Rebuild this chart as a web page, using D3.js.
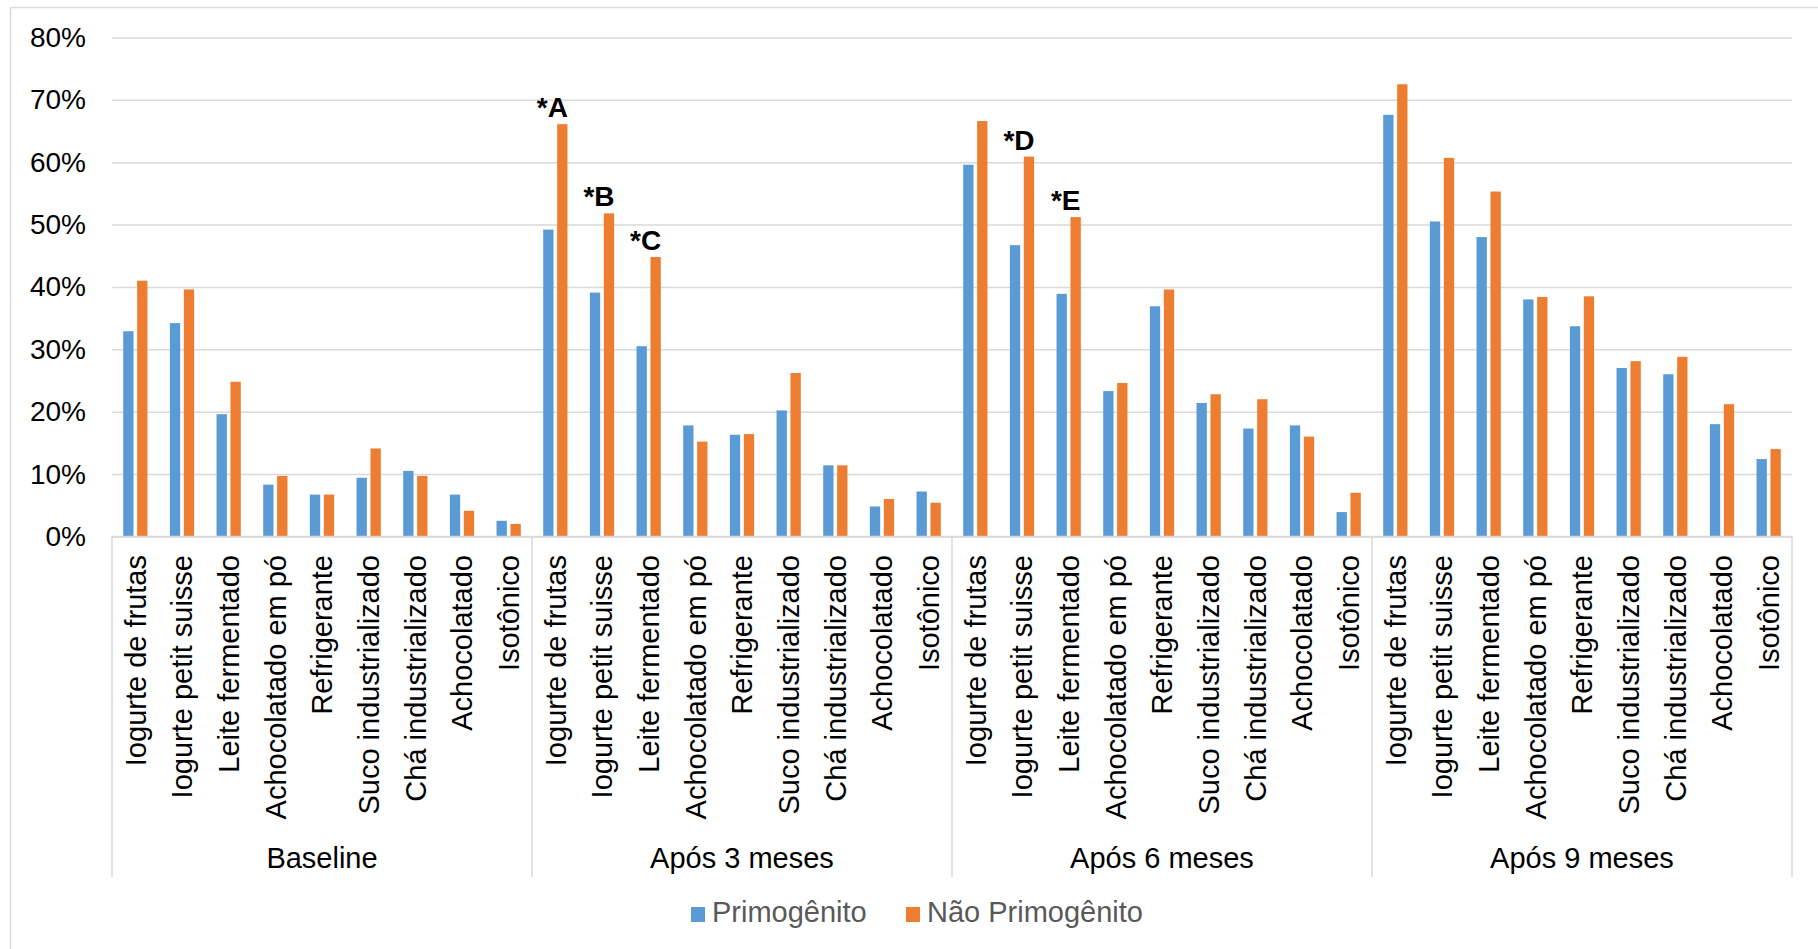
<!DOCTYPE html>
<html>
<head>
<meta charset="utf-8">
<script src="https://cdn.jsdelivr.net/npm/d3@7"></script>
<style>
  body { margin: 0; background: #fff; }
  svg { display: block; font-family: "Liberation Sans", Arial, sans-serif; }
</style>
</head>
<body>
<svg id="chart" width="1818" height="949"></svg>
<script>
// Beverage items, repeated for each follow-up period
const items = [
  "Iogurte de frutas", "Iogurte petit suisse", "Leite fermentado",
  "Achocolatado em pó", "Refrigerante", "Suco industrializado",
  "Chá industrializado", "Achocolatado", "Isotônico"
];
const periods = ["Baseline", "Após 3 meses", "Após 6 meses", "Após 9 meses"];
const seriesNames = ["Primogênito", "Não Primogênito"];

// Share of children consuming each item (fraction), in period order
const primogenito = [
  0.329, 0.342, 0.196, 0.083, 0.067, 0.094, 0.105, 0.067, 0.025,
  0.492, 0.391, 0.305, 0.178, 0.163, 0.202, 0.114, 0.048, 0.072,
  0.596, 0.467, 0.389, 0.233, 0.369, 0.214, 0.173, 0.178, 0.039,
  0.676, 0.505, 0.480, 0.380, 0.337, 0.270, 0.260, 0.180, 0.124
];
const naoPrimogenito = [
  0.410, 0.396, 0.248, 0.097, 0.067, 0.141, 0.097, 0.041, 0.020,
  0.661, 0.518, 0.448, 0.152, 0.164, 0.262, 0.114, 0.060, 0.054,
  0.666, 0.609, 0.512, 0.246, 0.396, 0.228, 0.220, 0.160, 0.070,
  0.725, 0.607, 0.553, 0.384, 0.385, 0.281, 0.288, 0.212, 0.140
];

// Significance markers placed over selected item pairs
const markerText = ["*A", "*B", "*C", "*D", "*E"];
const markerIndex = [9, 10, 11, 19, 20];

const yTicks = [0, 0.1, 0.2, 0.3, 0.4, 0.5, 0.6, 0.7, 0.8];
const colors = ["#5B9BD5", "#ED7D31"];

const svg = d3.select("#chart");
const plotLeft = 112, plotRight = 1792, plotTop = 37.5, plotBottom = 536.4;

// Outer chart frame
svg.append("rect")
  .attr("x", 10.5).attr("y", 7.5)
  .attr("width", 1840).attr("height", 980)
  .attr("fill", "none").attr("stroke", "#d9d9d9").attr("stroke-width", 1.5);

const keys = d3.range(items.length * periods.length);
const rows = keys.map(i => ({
  i, item: items[i % items.length], period: Math.floor(i / items.length),
  values: [primogenito[i], naoPrimogenito[i]]
}));

const x0 = d3.scaleBand().domain(keys).range([plotLeft, plotRight])
  .paddingInner(0.48).paddingOuter(0.24);
const x1 = d3.scaleBand().domain([0, 1]).range([0, x0.bandwidth()]).paddingInner(0.26);
const y = d3.scaleLinear().domain([0, 0.8]).range([plotBottom, plotTop]);
const step = x0.step();
const catCenter = i => x0(i) + x0.bandwidth() / 2;

// Horizontal gridlines and percentage labels
const yAxis = d3.axisLeft(y).tickValues(yTicks).tickFormat(d3.format(".0%"))
  .tickSize(-(plotRight - plotLeft)).tickPadding(26);
const gy = svg.append("g").attr("transform", `translate(${plotLeft},0)`).call(yAxis);
gy.select(".domain").remove();
gy.selectAll(".tick line").attr("stroke", "#d9d9d9").attr("stroke-width", 1.5);
gy.selectAll(".tick text")
  .attr("font-size", 28).attr("fill", "#000")
  .attr("font-family", "'Liberation Sans', Arial, sans-serif");

// Bars
const groups = svg.append("g").selectAll("g").data(rows).join("g")
  .attr("transform", d => `translate(${x0(d.i)},0)`);
groups.selectAll("rect").data(d => d.values.map((v, s) => ({ v, s }))).join("rect")
  .attr("x", d => x1(d.s))
  .attr("width", x1.bandwidth())
  .attr("y", d => y(d.v))
  .attr("height", d => y(0) - y(d.v))
  .attr("fill", d => colors[d.s]);

// Category axis line
svg.append("line")
  .attr("x1", plotLeft).attr("x2", plotRight).attr("y1", plotBottom).attr("y2", plotBottom)
  .attr("stroke", "#d9d9d9").attr("stroke-width", 1.5);

// Period separators
const sepX = d3.range(periods.length + 1).map(p => plotLeft + p * items.length * step);
svg.append("g").selectAll("line").data(sepX).join("line")
  .attr("x1", d => d).attr("x2", d => d)
  .attr("y1", plotBottom).attr("y2", 877)
  .attr("stroke", "#d9d9d9").attr("stroke-width", 1.5);

// Item labels, rotated
svg.append("g").selectAll("text").data(rows).join("text")
  .attr("transform", d => `translate(${catCenter(d.i)},555) rotate(-90)`)
  .attr("text-anchor", "end")
  .attr("dy", "0.36em")
  .attr("font-size", 29)
  .attr("fill", "#000")
  .text(d => d.item);

// Period labels
svg.append("g").selectAll("text").data(periods).join("text")
  .attr("x", (d, p) => plotLeft + (p + 0.5) * items.length * step)
  .attr("y", 868)
  .attr("text-anchor", "middle")
  .attr("font-size", 29)
  .attr("fill", "#000")
  .text(d => d);

// Significance markers
svg.append("g").selectAll("text").data(markerIndex).join("text")
  .attr("x", d => catCenter(d) - 3)
  .attr("y", d => y(naoPrimogenito[d]) - 7)
  .attr("text-anchor", "middle")
  .attr("font-size", 28)
  .attr("font-weight", "bold")
  .attr("fill", "#000")
  .text((d, k) => markerText[k]);

// Legend
const legendX = [691, 906];
const legend = svg.append("g").selectAll("g").data(seriesNames).join("g")
  .attr("transform", (d, s) => `translate(${legendX[s]},0)`);
legend.append("rect")
  .attr("x", 0).attr("y", 907).attr("width", 14).attr("height", 15)
  .attr("fill", (d, s) => colors[s]);
legend.append("text")
  .attr("x", 21).attr("y", 922)
  .attr("font-size", 29)
  .attr("fill", "#595959")
  .text(d => d);
</script>
</body>
</html>
